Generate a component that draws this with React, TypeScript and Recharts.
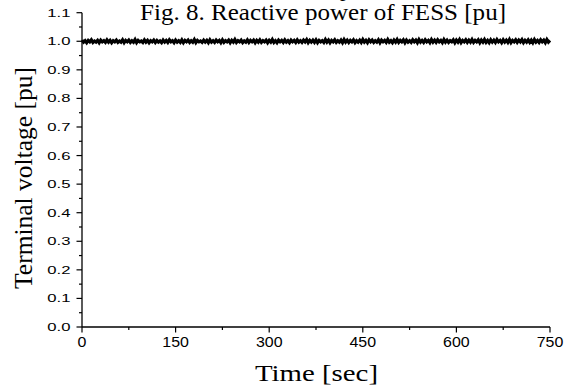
import React from "react";
import { LineChart, Line, XAxis, YAxis } from "recharts";

const sampleStep = 2.5; // seconds between samples
const voltage: number[] = [
  1.004, 0.997, 1.002, 0.995, 1.003, 0.998, 1.005, 0.996, 1.001, 0.997,
  1.003, 0.995, 1.004, 0.998, 1.002, 0.996, 1.005, 0.997, 1.003, 0.995,
  1.002, 0.998, 1.004, 0.996, 1.001, 0.997, 1.005, 0.995, 1.003, 0.998,
  1.004, 0.996, 1.002, 0.997, 1.006, 0.995, 1.003, 0.998, 1.001, 0.996,
  1.005, 0.997, 1.003, 0.995, 1.002, 0.998, 1.004, 0.996, 1.003, 0.997,
  1.001, 0.995, 1.004, 0.997, 1.003, 0.996, 1.005, 0.998, 1.002, 0.995,
  1.004, 0.997, 1.002, 0.996, 1.005, 0.995, 1.003, 0.998, 1.004, 0.996,
  1.002, 0.997, 1.006, 0.995, 1.003, 0.998, 1.001, 0.996, 1.004, 0.997,
  1.003, 0.995, 1.005, 0.997, 1.002, 0.996, 1.004, 0.998, 1.003, 0.995,
  1.005, 0.996, 1.002, 0.998, 1.004, 0.995, 1.003, 0.997, 1.006, 0.996,
  1.002, 0.998, 1.004, 0.995, 1.001, 0.997, 1.005, 0.996, 1.003, 0.998,
  1.004, 0.995, 1.003, 0.997, 1.005, 0.996, 1.002, 0.998, 1.004, 0.995,
  1.003, 0.997, 1.006, 0.996, 1.002, 0.995, 1.004, 0.998, 1.003, 0.996,
  1.005, 0.997, 1.002, 0.995, 1.004, 0.998, 1.003, 0.996, 1.005, 0.997,
  1.002, 0.996, 1.004, 0.998, 1.006, 0.995, 1.003, 0.997, 1.004, 0.996,
  1.005, 0.995, 1.003, 0.998, 1.002, 0.996, 1.006, 0.997, 1.004, 0.995,
  1.003, 0.998, 1.005, 0.996, 1.002, 0.997, 1.004, 0.995, 1.006, 0.997,
  1.004, 0.996, 1.003, 0.998, 1.005, 0.995, 1.002, 0.997, 1.004, 0.996,
  1.006, 0.997, 1.003, 0.995, 1.005, 0.998, 1.004, 0.996, 1.002, 0.997,
  1.005, 0.995, 1.004, 0.998, 1.003, 0.996, 1.006, 0.997, 1.002, 0.995,
  1.004, 0.997, 1.006, 0.996, 1.003, 0.998, 1.005, 0.995, 1.004, 0.997,
  1.002, 0.996, 1.005, 0.998, 1.004, 0.995, 1.006, 0.997, 1.003, 0.996,
  1.005, 0.998, 1.003, 0.995, 1.006, 0.997, 1.004, 0.996, 1.005, 0.998,
  1.003, 0.995, 1.006, 0.997, 1.004, 0.996, 1.002, 0.998, 1.005, 0.995,
  1.004, 0.997, 1.006, 0.995, 1.003, 0.998, 1.005, 0.996, 1.004, 0.997,
  1.006, 0.996, 1.003, 0.998, 1.005, 0.995, 1.004, 0.997, 1.006, 0.996,
  1.003, 0.995, 1.005, 0.997, 1.004, 0.996, 1.006, 0.998, 1.003, 0.995,
  1.005, 0.997, 1.004, 0.996, 1.006, 0.995, 1.003, 0.998, 1.005, 0.996,
  1.004, 0.998, 1.006, 0.995, 1.003, 0.997, 1.005, 0.996, 1.004, 0.995,
  1.006, 0.997, 1.003, 0.996, 1.005, 0.998, 1.004, 0.995, 1.006, 0.997,
  1.003,
];

const xTicks: number[] = [0, 75, 150, 225, 300, 375, 450, 525, 600, 675, 750];
const xMajorTicks: number[] = [0, 150, 300, 450, 600, 750];
const yTicks: number[] = [
  0, 0.05, 0.1, 0.15, 0.2, 0.25, 0.3, 0.35, 0.4, 0.45, 0.5, 0.55,
  0.6, 0.65, 0.7, 0.75, 0.8, 0.85, 0.9, 0.95, 1.0, 1.05, 1.1,
];
const yMajorTicks: number[] = [0, 0.1, 0.2, 0.3, 0.4, 0.5, 0.6, 0.7, 0.8, 0.9, 1.0, 1.1];

const titleText = "Fig. 8. Reactive power of FESS [pu]";
const xLabelText = "Time [sec]";
const yLabelText = "Terminal voltage [pu]";
const clippedText = "[pu]";

const data = voltage.map((v, i) => ({ t: i * sampleStep, v }));

const SANS = "Liberation Sans";
const SERIF = "Liberation Serif";

const isMajor = (arr: number[], v: number) => arr.some((m) => Math.abs(m - v) < 1e-6);

const YTick = (props: any) => {
  const { x, y, payload } = props;
  const major = isMajor(yMajorTicks, payload.value);
  return (
    <g>
      <line x1={x} x2={x - (major ? 5.5 : 3)} y1={y} y2={y} stroke="#000" strokeWidth={1.2} />
      {major && (
        <text
          transform={`translate(${x - 11.5},${y}) scale(1.45,1)`}
          textAnchor="end"
          dominantBaseline="central"
          fontFamily={SANS}
          fontSize={11.5}
          fill="#000"
        >
          {payload.value.toFixed(1)}
        </text>
      )}
    </g>
  );
};

const XTick = (props: any) => {
  const { x, y, payload } = props;
  const major = isMajor(xMajorTicks, payload.value);
  return (
    <g>
      <line x1={x} x2={x} y1={y} y2={y + (major ? 5.5 : 3)} stroke="#000" strokeWidth={1.2} />
      {major && (
        <text
          transform={`translate(${x},${y + 19.7}) scale(1.14,1)`}
          textAnchor="middle"
          fontFamily={SANS}
          fontSize={14}
          fill="#000"
        >
          {String(payload.value)}
        </text>
      )}
    </g>
  );
};

export default function App() {
  return (
    <div style={{ position: "absolute", left: 0, top: 0, width: 565, height: 387, background: "#fff" }}>
      <LineChart
        width={565}
        height={387}
        data={data}
        margin={{ top: 12.7, right: 15, bottom: 30, left: 22 }}
      >
        <XAxis
          dataKey="t"
          type="number"
          domain={[0, 750]}
          ticks={xTicks}
          interval={0}
          height={30}
          tickSize={0}
          tickMargin={0}
          tickLine={false}
          axisLine={{ stroke: "#000", strokeWidth: 1.3 }}
          tick={<XTick />}
        />
        <YAxis
          type="number"
          domain={[0, 1.1]}
          ticks={yTicks}
          interval={0}
          width={60}
          tickSize={0}
          tickMargin={0}
          tickLine={false}
          axisLine={{ stroke: "#000", strokeWidth: 1.3 }}
          tick={<YTick />}
          allowDataOverflow
        />
        <Line
          dataKey="v"
          type="linear"
          stroke="#000"
          strokeWidth={3.2}
          dot={false}
          isAnimationActive={false}
        />
      </LineChart>
      <svg
        width={565}
        height={387}
        style={{ position: "absolute", left: 0, top: 0, pointerEvents: "none" }}
      >
        <text x={351} y={-4} fontFamily={SERIF} fontSize={22} fill="#000" textAnchor="middle">
          {clippedText}
        </text>
        <text
          x={323}
          y={20}
          fontFamily={SERIF}
          fontSize={23}
          fill="#000"
          textAnchor="middle"
          textLength={366}
          lengthAdjust="spacingAndGlyphs"
        >
          {titleText}
        </text>
        <text
          x={316.5}
          y={381}
          fontFamily={SERIF}
          fontSize={23}
          fill="#000"
          textAnchor="middle"
          textLength={123}
          lengthAdjust="spacingAndGlyphs"
        >
          {xLabelText}
        </text>
        <text
          transform="translate(32,178) rotate(-90)"
          fontFamily={SERIF}
          fontSize={25}
          fill="#000"
          textAnchor="middle"
          textLength={222}
          lengthAdjust="spacingAndGlyphs"
        >
          {yLabelText}
        </text>
      </svg>
    </div>
  );
}
